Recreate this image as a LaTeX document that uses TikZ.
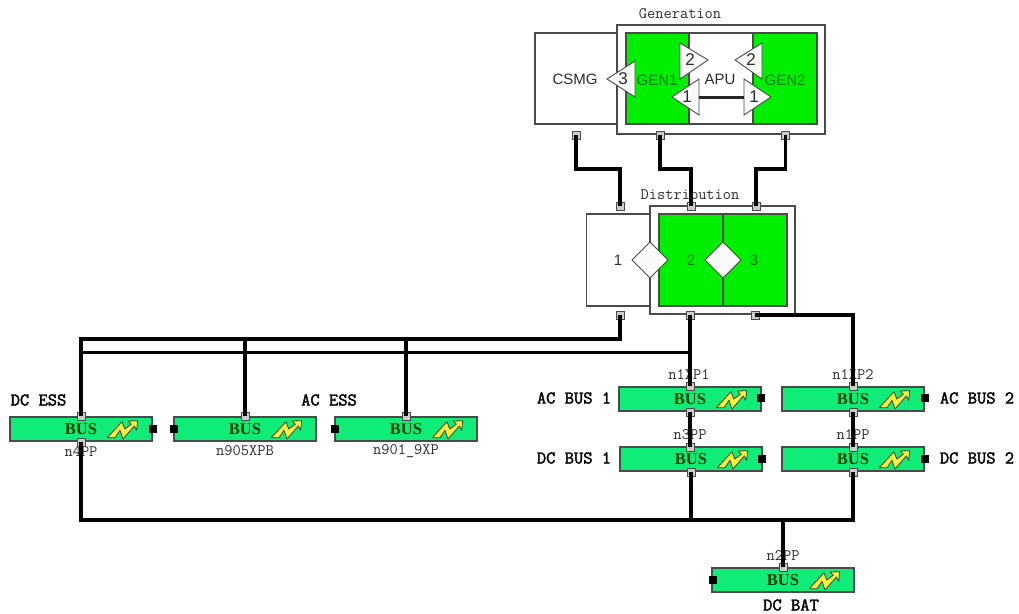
\documentclass[tikz,border=0pt]{standalone}
\usepackage{fontspec}
\setmainfont{Liberation Sans}
\newfontfamily\serf{Liberation Serif}
\newfontfamily\headf[FakeBold=2]{Latin Modern Mono}
\definecolor{lineg}{HTML}{4A4A4A}
\definecolor{gengreen}{HTML}{00EE00}
\definecolor{busgreen}{HTML}{10EC78}
\definecolor{bolty}{HTML}{F2F23A}
\definecolor{soft}{HTML}{2C2C2C}
\definecolor{darkg}{HTML}{0A7A0A}
\tikzset{
  panel/.style={draw=lineg,line width=1.1pt,fill=white,rectangle,inner sep=0,outer sep=0},
  greenbox/.style={draw=lineg,line width=1.1pt,fill=gengreen,rectangle,inner sep=0,outer sep=0},
  whitebox/.style={draw=lineg,line width=1.1pt,fill=white,rectangle,inner sep=0,outer sep=0},
  busbox/.style={draw=lineg,line width=1.1pt,fill=busgreen,rectangle,inner sep=0,outer sep=0,minimum width=142pt,minimum height=24pt,
     font=\serf\bfseries\fontsize{16.5}{16.5}\selectfont,text=black!75!green},
  port/.style={draw=lineg,line width=1pt,fill=black!20,rectangle,inner sep=0,outer sep=0,minimum size=8pt},
  blackport/.style={fill=black,rectangle,inner sep=0,outer sep=0,minimum size=8.5pt},
  wire/.style={line width=3.4pt,black,line join=miter},
  thin wire/.style={line width=3pt,black!85},
  tri/.style={draw=lineg,line width=0.9pt,fill=white!96!gray},
  dia/.style={draw=lineg,line width=0.9pt,fill=white!96!gray},
  title/.style={font=\ttfamily\fontsize{16}{16}\selectfont,text=soft,inner sep=0},
  tag/.style={font=\ttfamily\fontsize{16}{16}\selectfont,text=soft,inner sep=0},
  head/.style={font=\headf\fontsize{18}{18}\selectfont,text=black,inner sep=0},
  sans/.style={font=\fontsize{15}{15}\selectfont,text=soft,inner sep=0},
  sansg/.style={font=\fontsize{15}{15}\selectfont,text=darkg,inner sep=0},
  tnum/.style={font=\fontsize{17}{17}\selectfont,text=soft,inner sep=0},
  bolt/.pic={
    \draw[draw=black!70!olive,line width=0.8pt,fill=bolty,line join=round]
      (97.3,20.7)--(112,4.7)--(114.7,12)--(121.3,7.3)--(118.3,4)--(127.7,3.7)--(126.7,13.3)--(124.3,9)--(113,22)--(110,13.3)--(105,20.7)--cycle;
  }
}
\newcommand{\busat}[3]{% name, left x, top y
  \node[busbox] (#1) at (#2+71,#3+12) {BUS};
  \pic at (#2,#3) {bolt};
}
\begin{document}
\begin{tikzpicture}[x=1pt,y=-1pt]
\useasboundingbox (0,0) rectangle (1019,613);
% Generation
\node[whitebox,minimum width=82pt,minimum height=91pt] (csmg) at (576,78.5) {};
\node[panel,minimum width=208pt,minimum height=109pt] (genouter) at (721,79.5) {};
\node[greenbox,minimum width=63pt,minimum height=91pt] (gen1) at (657.5,78.5) {};
\node[whitebox,minimum width=64pt,minimum height=91pt] (apu) at (721,78.5) {};
\node[greenbox,minimum width=64pt,minimum height=91pt] (gen2) at (785,78.5) {};
\node[sans] (csmgt) at (575,79) {CSMG};
\node[sansg] (gen1t) at (657,80) {GEN1};
\node[sans] (aput) at (720,79) {APU};
\node[sansg] (gen2t) at (785,80) {GEN2};
\node[title] (gent) at (680,14) {Generation};
\coordinate (tl) at (699,97);
\coordinate (tr) at (744,97);
\draw[tri] (635,61)--(607,79)--(635,97)--cycle;
\draw[tri] (680,43)--(708,60)--(680,79)--cycle;
\draw[tri] (762,43)--(735,60)--(762,79)--cycle;
\draw[tri] (699,79)--(672,97)--(699,115)--cycle;
\draw[tri] (744,79)--(771,97)--(744,115)--cycle;
\draw[thin wire] (tl) -- (tr);
\node[tnum] (n3) at (623,79) {3};
\node[tnum] (n2a) at (690,60) {2};
\node[tnum] (n2b) at (751,60) {2};
\node[tnum] (n1a) at (687,97) {1};
\node[tnum] (n1b) at (754,97) {1};
% Distribution
\node[whitebox,minimum width=64pt,minimum height=92pt] (d1) at (618.5,260) {};
\node[panel,minimum width=145pt,minimum height=108pt] (dist) at (722.5,260) {};
\node[greenbox,minimum width=64pt,minimum height=92pt] (d2) at (691,260) {};
\node[greenbox,minimum width=64pt,minimum height=92pt] (d3) at (755,260) {};
\draw[dia] (650,242)--(668,260)--(650,278)--(632,260)--cycle;
\draw[dia] (723,242)--(741,260)--(723,278)--(705,260)--cycle;
\node[sans] (d1t) at (618,260) {1};
\node[sansg] (d2t) at (691,260) {2};
\node[sansg] (d3t) at (754,260) {3};
\node[title] (distt) at (690,195) {Distribution};
% Buses
\busat{bess}{10}{417}
\busat{b905}{174}{417}
\busat{b901}{335}{417}
\busat{bac1}{619}{387}
\busat{bac2}{782}{387}
\busat{bdc1}{620}{447}
\busat{bdc2}{782}{447}
\busat{bbat}{712}{568}
% Labels
\node[tag] (t1) at (81,451) {n4PP};
\node[tag] (t2) at (245,451) {n905XPB};
\node[tag] (t3) at (406,451) {n901\_9XP};
\node[tag] (t4) at (689,375) {n1XP1};
\node[tag] (t5) at (853,375) {n1XP2};
\node[tag] (t6) at (690,435) {n3PP};
\node[tag] (t7) at (853,435) {n1PP};
\node[tag] (t8) at (783,556) {n2PP};
\node[head] (h1) at (38.5,400) {DC ESS};
\node[head] (h2) at (329,400) {AC ESS};
\node[head] (h3) at (574,398) {AC BUS 1};
\node[head] (h4) at (574,458) {DC BUS 1};
\node[head] (h5) at (977,398) {AC BUS 2};
\node[head] (h6) at (977,458) {DC BUS 2};
\node[head] (h7) at (791,605) {DC BAT};
% Ports
\node[port] (pcs) at (576,135) {};
\node[port] (pg1) at (660,135) {};
\node[port] (pg2) at (785.5,135) {};
\node[port] (dt1) at (620,206) {};
\node[port] (dt2) at (691,206) {};
\node[port] (dt3) at (756,206) {};
\node[port] (db1) at (620,315) {};
\node[port] (db2) at (690,315) {};
\node[port] (db3) at (755,315) {};
\node[port] (esst) at (81,416) {};
\node[port] (essb) at (81,442) {};
\node[port] (p905) at (245,416) {};
\node[port] (p901) at (406,416) {};
\node[port] (ac1t) at (690,386) {};
\node[port] (ac1b) at (690,412) {};
\node[port] (ac2t) at (853,386) {};
\node[port] (ac2b) at (853,412) {};
\node[port] (dc1t) at (690,447) {};
\node[port] (dc1b) at (691,472) {};
\node[port] (dc2t) at (853,447) {};
\node[port] (dc2b) at (853,472) {};
\node[port] (batt) at (783,567) {};
\node[blackport] at (153,429) (kess) {};
\node[blackport] at (174,429) (k905) {};
\node[blackport] at (335,429) (k901) {};
\node[blackport] at (761,398) (kac1) {};
\node[blackport] at (925,398) (kac2) {};
\node[blackport] at (762,459) (kdc1) {};
\node[blackport] at (925,459) (kdc2) {};
\node[blackport] at (713,580) (kbat) {};
% Junctions
\coordinate (jlow) at (0,520);
\coordinate (jup) at (0,339);
\coordinate (jmid) at (0,352.5);
\coordinate (jtop) at (0,169);
% Wires
\draw[wire] (pcs.center) -- (pcs.center |- jtop) -| (dt1.center);
\draw[wire] (pg1.center) -- (pg1.center |- jtop) -| (dt2.center);
\draw[wire] (pg2.center) -- (pg2.center |- jtop) -| (dt3.center);
\draw[wire] (db1.center) -- (db1.center |- jup) -| (esst.center);
\draw[wire] (ac1t.center) -- (ac1t.center |- jmid) -| (esst.center);
\draw[wire] (db2.center) -- (ac1t.center);
\draw[wire] (p905.center) -- (p905.center |- jup);
\draw[wire] (p901.center) -- (p901.center |- jup);
\draw[wire] (db3.center) -| (ac2t.center);
\draw[wire] (ac1b.center) -- (dc1t.center);
\draw[wire] (ac2b.center) -- (dc2t.center);
\draw[wire] (essb.center) -- (essb.center |- jlow) -| (dc2b.center);
\draw[wire] (dc1b.center) -- (dc1b.center |- jlow);
\draw[wire] (batt.center) -- (batt.center |- jlow);
\end{tikzpicture}
\end{document}
